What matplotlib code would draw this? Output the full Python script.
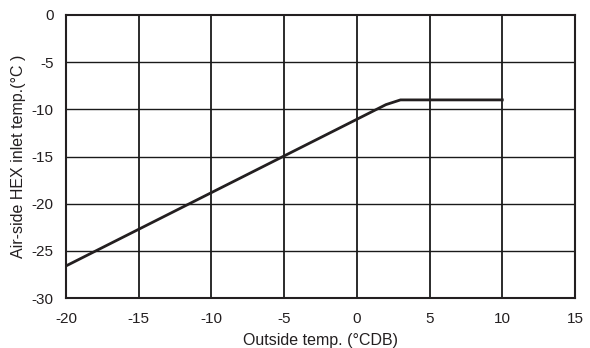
import matplotlib
matplotlib.use("Agg")
import matplotlib.pyplot as plt

plt.rcParams['font.family'] = ['Liberation Sans', 'DejaVu Sans']

outside_temp = [-20, 2, 3, 10]
hex_inlet_temp = [-26.6, -9.5, -9.0, -9.0]
x_ticks = [-20, -15, -10, -5, 0, 5, 10, 15]
y_ticks = [-30, -25, -20, -15, -10, -5, 0]

fig = plt.figure(figsize=(5.9, 3.48), dpi=100)
ax = fig.add_axes([66/590, 1-298/348, (575-66)/590, (298-15)/348])

for xv in x_ticks[1:-1]:
    ax.axvline(xv, color='#1a1a1a', lw=1.3, zorder=1)
for yv in y_ticks[1:-1]:
    ax.axhline(yv, color='#1a1a1a', lw=1.0, zorder=1)

ax.plot(outside_temp, hex_inlet_temp, color='#231f20', lw=2.0, zorder=3)

ax.set_xlim(-20, 15)
ax.set_ylim(-30, 0)
ax.set_xticks(x_ticks)
ax.set_yticks(y_ticks)
ax.set_xticklabels([str(v) for v in x_ticks])
ax.set_yticklabels([str(v) for v in y_ticks])
ax.tick_params(axis='x', length=0, labelsize=11, colors='#231f20', pad=10)
ax.tick_params(axis='y', length=0, labelsize=11, colors='#231f20', pad=9)
for s in ax.spines.values():
    s.set_linewidth(1.5)
    s.set_color('#231f20')

ax.set_xlabel('Outside temp. (°CDB)', fontsize=11.5, color='#231f20', labelpad=5)
ax.set_ylabel('Air-side HEX inlet temp.(°C )', fontsize=11.5, color='#231f20', labelpad=4)

fig.savefig('out.png', dpi=100)
